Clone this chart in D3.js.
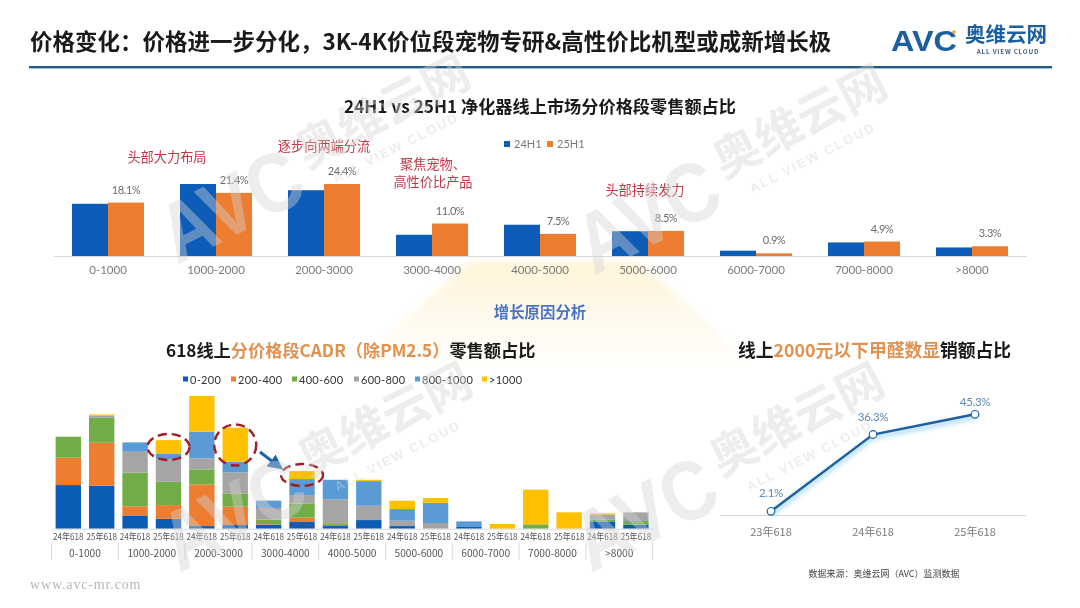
<!DOCTYPE html>
<html lang="zh"><head><meta charset="utf-8">
<script src="https://cdn.jsdelivr.net/npm/d3@7"></script>
<style>
html,body{margin:0;padding:0;background:#fff;overflow:hidden}
svg{display:block;filter:blur(.35px)}
text{font-family:"Noto Sans CJK SC","Noto Sans",sans-serif}
.lat{font-family:Lato,"Noto Sans CJK SC",sans-serif}
.axis path,.axis line{display:none}
</style></head><body>
<svg id="c" width="1080" height="608"></svg>
<script>
// Top chart
const priceBands=["0-1000","1000-2000","2000-3000","3000-4000","4000-5000","5000-6000","6000-7000","7000-8000",">8000"];
const h1Names=["24H1","25H1"];
const h1Y24=[17.7,24.4,22.3,7.2,10.6,8.4,1.8,4.6,2.9];
const h1Y25=[18.1,21.4,24.4,11.0,7.5,8.5,0.9,4.9,3.3];
// Stacked chart
const periods=["24年618","25年618"];
const cadrNames=["0-200","200-400","400-600","600-800","800-1000",">1000"];
const cadr0=[59.5,58.6,17.3,13.6,3.6,5,5.5,9.1,3.6,11.8,3.6,0,2.3,0,0,0,10,5.5];
const cadr1=[37.3,58.6,13.2,18.6,56.8,25,0.5,5.9,0,0,0,0,0,0,0,0,0,0];
const cadr2=[28.6,34.1,45.9,31.8,20.5,18.2,6.4,19.5,2.7,0,0,0,0,0,5.9,0,2.7,5];
const cadr3=[0,2.7,28.6,30.9,15,28.6,15.9,11.4,33.6,19.5,7.3,7.7,0,0,0,0,6.8,11.8];
const cadr4=[0,0,12.7,7.7,36.4,14.5,10,21.8,26.8,33.6,15.9,27.7,7.7,0,0,0,0,0];
const cadr5=[0,1.8,0,18.2,48.6,46.4,0,10.9,0,1.8,11.4,6.4,0,6.4,47.3,22.3,1.4,0];
// Line chart
const lineCats=["23年618","24年618","25年618"];
const lineVals=[2.1,36.3,45.3];
// Text
const mainTitle="价格变化：价格进一步分化，3K-4K价位段宠物专研&高性价比机型或成新增长极";
const topTitle="24H1 vs 25H1 净化器线上市场分价格段零售额占比";
const notes=[["头部大力布局",167,157],["逐步向两端分流",324,146],["聚焦宠物、",433,164],["高性价比产品",433,182],["头部持续发力",645,190]];

const BLUE="#0c5cb8",ORANGE="#ed7d31";
const cadrColors=["#0b5cb5","#ed7d31","#70ad47","#a5a5a5","#5b9bd5","#ffc000"];
const svg=d3.select("#c");
const defs=svg.append("defs");
const g1=defs.append("linearGradient").attr("id","glow").attr("x1",0).attr("x2",0).attr("y1",0).attr("y2",1);
g1.append("stop").attr("offset",0).attr("stop-color","#fff4d8");
g1.append("stop").attr("offset",.55).attr("stop-color","#fffaef");
g1.append("stop").attr("offset",1).attr("stop-color","#ffffff");
defs.append("filter").attr("id","lineGlow").attr("x","-20%").attr("y","-30%").attr("width","140%").attr("height","170%")
  .append("feGaussianBlur").attr("stdDeviation",2.2);
defs.append("filter").attr("id","softGlow").attr("x","-10%").attr("y","-10%").attr("width","120%").attr("height","120%")
  .append("feGaussianBlur").attr("stdDeviation",3);
const mk=defs.append("marker").attr("id","arr").attr("markerWidth",5).attr("markerHeight",5).attr("refX",2.5).attr("refY",2.5).attr("orient","auto");
mk.append("path").attr("d","M0,0L5,2.5L0,5Z").attr("fill","#1f62ad");

// Glow
svg.append("path").attr("d","M470,262L640,262L760,372L345,372Z").attr("fill","url(#glow)").attr("filter","url(#softGlow)");

// ---- Header
svg.append("text").attr("x",30).attr("y",50).attr("font-size",22.5).attr("font-weight",700).attr("fill","#1a1a1a").text(mainTitle);
svg.append("rect").attr("x",29).attr("y",66).attr("width",1023).attr("height",2.4).attr("fill","#1f5c8b");
const logo=svg.append("g");
logo.append("text").attr("x",891).attr("y",51).attr("font-size",29).attr("font-weight",700).attr("textLength",66).attr("lengthAdjust","spacingAndGlyphs").attr("fill","#1b5f9e").style("font-family","Liberation Sans").text("AVC");
logo.append("circle").attr("cx",954).attr("cy",32).attr("r",1.8).attr("fill","#f0a030");
logo.append("text").attr("x",965).attr("y",42).attr("font-size",20.5).attr("font-weight",700).attr("fill","#1b5f9e").text("奥维云网");
logo.append("text").attr("x",1008).attr("y",54).attr("text-anchor","middle").attr("font-size",6.3).attr("font-weight",700).attr("letter-spacing",.8).attr("fill","#44607a").text("ALL VIEW CLOUD");

// ---- Top grouped bars
const topBase=256, topH=2.95*30;
const x0=d3.scaleBand().domain(priceBands).range([54,1026]);
const x1=d3.scaleBand().domain(h1Names).range([x0.bandwidth()/6,x0.bandwidth()*5/6]);
const yT=d3.scaleLinear().domain([0,30]).range([topBase,topBase-topH]);
const gT=svg.append("g");
[[h1Names[0],h1Y24,BLUE],[h1Names[1],h1Y25,ORANGE]].forEach(([n,vals,col])=>{
  gT.selectAll(null).data(vals).join("rect")
    .attr("x",(d,i)=>x0(priceBands[i])+x1(n)).attr("width",x1.bandwidth())
    .attr("y",d=>yT(d)).attr("height",d=>topBase-yT(d)).attr("fill",col);
});
gT.selectAll(null).data(h1Y25).join("text").attr("class","lat")
  .attr("x",(d,i)=>x0(priceBands[i])+x1("25H1")+x1.bandwidth()/2).attr("y",d=>yT(d)-9)
  .attr("text-anchor","middle").attr("font-size",11).attr("letter-spacing",-.4).attr("fill","#6b6b6b").text(d=>d.toFixed(1)+"%");
gT.append("line").attr("x1",54).attr("x2",1027).attr("y1",topBase+.5).attr("y2",topBase+.5).attr("stroke","#d9d9d9");
const axT=gT.append("g").attr("class","axis").attr("transform",`translate(0,${topBase})`).call(d3.axisBottom(x0).tickSize(0).tickPadding(10));
axT.selectAll("text").attr("class","lat").attr("font-size",11.5).attr("fill","#7a7a7a").style("font-family","Lato");
svg.append("text").attr("x",540).attr("y",113).attr("text-anchor","middle").attr("font-size",17.2).attr("font-weight",700).attr("fill","#1a1a1a").text(topTitle);
[[h1Names[0],BLUE,504,514],[h1Names[1],ORANGE,547,557]].forEach(([n,c,sx,tx])=>{
  svg.append("rect").attr("x",sx).attr("y",141).attr("width",6).attr("height",6).attr("fill",c);
  svg.append("text").attr("class","lat").attr("x",tx).attr("y",148).attr("font-size",11).attr("fill","#7a7a7a").text(n);
});
svg.selectAll(null).data(notes).join("text").attr("x",d=>d[1]).attr("y",d=>d[2]+5).attr("text-anchor","middle").attr("font-size",13.2).attr("fill","#c23a45").text(d=>d[0]);
svg.append("text").attr("x",540).attr("y",318).attr("text-anchor","middle").attr("font-size",15.4).attr("font-weight",700).attr("fill","#4a74c8").text("增长原因分析");

// ---- Stacked bars
const ORG="#e2914f";
const t2=svg.append("text").attr("x",166).attr("y",357).attr("font-size",17.2).attr("font-weight",700).attr("fill","#1a1a1a");
t2.append("tspan").text("618线上");
t2.append("tspan").attr("fill",ORG).text("分价格段CADR（除PM2.5）");
t2.append("tspan").text("零售额占比");
const t3=svg.append("text").attr("x",738).attr("y",357).attr("font-size",17.8).attr("font-weight",700).attr("fill","#1a1a1a");
t3.append("tspan").text("线上");
t3.append("tspan").attr("fill",ORG).text("2000元以下甲醛数显");
t3.append("tspan").text("销额占比");

const legX=[183,231,292,354,415,482];
cadrNames.forEach((n,i)=>{
  svg.append("rect").attr("x",legX[i]).attr("y",376.5).attr("width",5).attr("height",5).attr("fill",cadrColors[i]);
  svg.append("text").attr("class","lat").attr("x",legX[i]+7).attr("y",383.5).attr("font-size",11).attr("letter-spacing",.3).attr("fill","#333").text(n);
});
const sBase=528.7;
const barKeys=priceBands.flatMap(b=>periods.map(p=>b+"|"+p));
const xS=d3.scaleBand().domain(barKeys).range([51.6,652.6]).paddingInner(.24).paddingOuter(.12);
const xG=d3.scaleBand().domain(priceBands).range([51.6,652.6]);
const yS=d3.scaleLinear().domain([0,180]).range([sBase,sBase-132]);
const rows=barKeys.map((k,i)=>({k,a:cadr0[i],b:cadr1[i],c:cadr2[i],d:cadr3[i],e:cadr4[i],f:cadr5[i]}));
const stacked=d3.stack().keys(["a","b","c","d","e","f"])(rows);
const gS=svg.append("g");
gS.selectAll("g").data(stacked).join("g").attr("fill",(d,i)=>cadrColors[i])
  .selectAll("rect").data(d=>d).join("rect")
  .attr("x",d=>xS(d.data.k)).attr("width",xS.bandwidth())
  .attr("y",d=>yS(d[1])).attr("height",d=>yS(d[0])-yS(d[1]));
gS.append("line").attr("x1",51.6).attr("x2",652.6).attr("y1",sBase+.5).attr("y2",sBase+.5).attr("stroke","#d9d9d9");
const axS=gS.append("g").attr("class","axis").attr("transform",`translate(0,${sBase})`)
  .call(d3.axisBottom(xS).tickSize(0).tickPadding(5).tickFormat(k=>k.split("|")[1]));
axS.selectAll("text").attr("font-size",9.2).attr("textLength",30.5).attr("lengthAdjust","spacingAndGlyphs").attr("fill","#555");
const axG=gS.append("g").attr("class","axis").attr("transform",`translate(0,${sBase})`)
  .call(d3.axisBottom(xG).tickSize(0).tickPadding(21));
axG.selectAll("text").attr("font-size",10.2).attr("fill","#555");
gS.selectAll(null).data([...priceBands.map(b=>xG(b)),652.6]).join("line")
  .attr("x1",d=>d).attr("x2",d=>d).attr("y1",sBase+14).attr("y2",560).attr("stroke","#d9d9d9");

// Highlights (anchored to the bars they circle)
const ring=(k,top,bot,rx)=>{const cx=xS(k)+xS.bandwidth()/2;
  svg.append("ellipse").attr("cx",cx).attr("cy",(top+bot)/2).attr("rx",rx).attr("ry",(bot-top)/2)
   .attr("fill","none").attr("stroke","#a31d25").attr("stroke-width",2.4).attr("stroke-dasharray","9 5");};
ring(barKeys[3],434,460,21);ring(barKeys[5],424.5,465.5,21);ring(barKeys[7],464,486,21);
svg.append("line").attr("x1",260).attr("y1",452).attr("x2",277).attr("y2",465).attr("stroke","#1f62ad").attr("stroke-width",3).attr("marker-end","url(#arr)");

// ---- Line chart
const xL=d3.scaleBand().domain(lineCats).range([720,1026]);
const yL=d3.scaleLinear().domain([0,50]).range([516,516-2.245*50]);
const lineGen=d3.line().x((d,i)=>xL(lineCats[i])+xL.bandwidth()/2).y(d=>yL(d));
const gL=svg.append("g");
gL.append("line").attr("x1",720).attr("x2",1026).attr("y1",515.5).attr("y2",515.5).attr("stroke","#d9d9d9");
gL.append("path").attr("d",lineGen(lineVals)).attr("transform","translate(0,3)").attr("fill","none").attr("stroke","#6cc0f0").attr("stroke-width",5).attr("opacity",.45).attr("filter","url(#lineGlow)");
gL.append("path").attr("d",lineGen(lineVals)).attr("fill","none").attr("stroke","#1f5f9f").attr("stroke-width",2.4);
gL.selectAll("circle").data(lineVals).join("circle").attr("cx",(d,i)=>xL(lineCats[i])+xL.bandwidth()/2).attr("cy",d=>yL(d)).attr("r",3.8).attr("fill","#fff").attr("stroke","#1f5f9f").attr("stroke-width",1.2);
const labDy=[0,0,6];
gL.selectAll(null).data(lineVals).join("text").attr("class","lat").attr("x",(d,i)=>xL(lineCats[i])+xL.bandwidth()/2).attr("y",(d,i)=>yL(d)-14+labDy[i])
  .attr("text-anchor","middle").attr("font-size",11.5).attr("letter-spacing",-.3).attr("fill","#5a8ab5").text(d=>d.toFixed(1)+"%");
const axL=gL.append("g").attr("class","axis").attr("transform","translate(0,516)").call(d3.axisBottom(xL).tickSize(0).tickPadding(12));
axL.selectAll("text").attr("font-size",11).attr("fill","#7a7a7a");

svg.append("text").attr("x",884).attr("y",576.5).attr("text-anchor","middle").attr("font-size",9).attr("fill","#444").text("数据来源：奥维云网（AVC）监测数据");
svg.append("text").attr("x",30).attr("y",589).attr("font-size",14).attr("letter-spacing",.85).attr("fill","#b8b8b8").style("font-family","Liberation Serif").text("www.avc-mr.com");

// ---- Watermarks
const wmPos=[[383,112],[800,122],[385,420],[797,420]];
wmPos.forEach(([x,y])=>{
  const g=svg.append("g").attr("transform",`translate(${x},${y}) rotate(-27)`).attr("fill","#d4d4d4").attr("opacity",.42).style("pointer-events","none");
  g.append("text").attr("x",-178).attr("y",43).attr("text-anchor","middle").attr("font-size",84).attr("font-weight",700).attr("textLength",150).attr("lengthAdjust","spacingAndGlyphs").style("font-family","Liberation Sans").text("AVC");
  g.append("text").attr("x",0).attr("y",16).attr("text-anchor","middle").attr("font-size",47).attr("font-weight",700).text("奥维云网");
  g.append("text").attr("x",-5).attr("y",42).attr("text-anchor","middle").attr("font-size",13).attr("font-weight",700).attr("letter-spacing",2).style("font-family","Liberation Sans").text("ALL VIEW CLOUD");
});
</script>
</body></html>
